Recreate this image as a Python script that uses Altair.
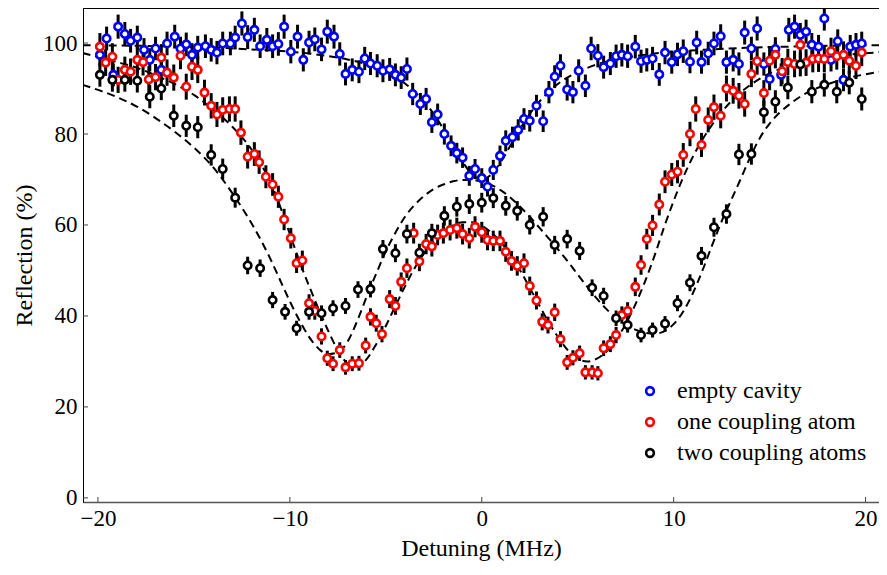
import math
import altair as alt
import pandas as pd

SERIES = ["empty cavity", "one coupling atom", "two coupling atoms"]
COLORS = ["#0000ff", "#ff0000", "#000000"]
ERR_SCALE = [0.26, 0.30, 0.27]

BLUE_X = [-19.9, -19.55, -19.2, -18.95, -18.6, -18.3, -17.95, -17.6, -17.3, -17.0, -16.7, -16.4, -16.0, -15.7,
          -15.4, -15.1, -14.8, -14.4, -14.1, -13.8, -13.5, -13.1, -12.85, -12.5, -12.2, -11.85, -11.55, -11.2,
          -10.9, -10.6, -10.3, -9.95, -9.6, -9.3, -9.0, -8.7, -8.35, -8.05, -7.7, -7.4, -7.1, -6.75, -6.4, -6.1,
          -5.8, -5.45, -5.15, -4.8, -4.5, -4.2, -3.9, -3.6, -3.2, -2.9, -2.6, -2.3, -1.95, -1.6, -1.3, -1.0,
          -0.65, -0.35, 0.0, 0.3, 0.6, 0.95, 1.25, 1.6, 1.9, 2.2, 2.5, 2.85, 3.2, 3.5, 3.8, 4.1, 4.45, 4.75,
          5.05, 5.4, 5.7, 6.05, 6.35, 6.7, 7.0, 7.3, 7.6, 8.0, 8.3, 8.6, 8.9, 9.25, 9.55, 9.9, 10.2, 10.5,
          10.85, 11.2, 11.45, 11.8, 12.1, 12.45, 12.75, 13.1, 13.4, 13.7, 14.05, 14.35, 14.7, 15.0, 15.3, 15.6,
          16.0, 16.3, 16.6, 16.9, 17.2, 17.55, 17.85, 18.2, 18.55, 18.85, 19.2, 19.5, 19.8]
BLUE_Y = [97.4, 101.0, 93.0, 103.6, 102.0, 100.5, 101.2, 98.5, 96.3, 98.8, 94.1, 99.9, 101.4, 98.8,
          99.7, 97.4, 99.0, 99.3, 98.5, 97.9, 99.9, 99.9, 101.2, 104.3, 101.3, 102.9, 99.3, 100.7,
          99.3, 99.8, 103.6, 98.1, 101.4, 96.3, 100.1, 100.8, 98.6, 102.5, 101.4, 97.6, 93.2, 94.1, 93.7, 96.6,
          95.5, 95.0, 93.9, 94.2, 93.0, 92.4, 94.3, 88.8, 86.6, 87.7, 82.6, 84.3, 80.0, 77.4, 75.8, 74.8,
          70.8, 72.3, 70.3, 68.4, 72.1, 75.2, 78.5, 79.3, 80.9, 83.3, 82.9, 86.2, 82.8, 89.2, 92.6, 95.0, 89.8, 89.2,
          93.9, 90.6, 98.8, 97.2, 94.7, 95.5, 97.1, 97.4, 97.1, 99.2, 96.0, 96.3, 96.6, 93.1, 97.9, 95.8, 97.5, 98.2,
          95.9, 100.1, 95.8, 97.7, 99.9, 101.5, 95.8, 96.3, 95.4, 102.3, 98.8, 103.2, 95.4, 92.1, 98.7, 93.0,
          102.9, 103.6, 101.8, 102.5, 99.6, 99.2, 105.4, 96.3, 100.4, 91.9, 99.2, 99.6, 99.9]

RED_X = [-19.9, -19.6, -19.25, -18.95, -18.6, -18.3, -17.95, -17.65, -17.35, -17.0, -16.7, -16.4, -16.05, -15.7,
         -15.4, -15.1, -14.8, -14.45, -14.1, -13.8, -13.5, -13.15, -12.85, -12.55, -12.2, -11.85, -11.6, -11.25,
         -10.9, -10.6, -10.3, -9.95, -9.65, -9.35, -9.0, -8.7, -8.35, -8.05, -7.75, -7.4, -7.1, -6.75, -6.4,
         -6.05, -5.8, -5.5, -5.2, -4.8, -4.5, -4.2, -3.9, -3.55, -3.25, -2.9, -2.6, -2.3, -2.0, -1.65, -1.3, -1.0,
         -0.65, -0.35, 0.0, 0.3, 0.6, 0.95, 1.25, 1.55, 1.85, 2.2, 2.5, 2.85, 3.15, 3.45, 3.8, 4.1, 4.45, 4.75,
         5.1, 5.4, 5.75, 6.05, 6.35, 6.7, 7.0, 7.3, 7.6, 8.0, 8.3, 8.6, 8.9, 9.25, 9.55, 9.9, 10.2, 10.5, 10.85,
         11.15, 11.45, 11.8, 12.1, 12.45, 12.75, 13.1, 13.4, 13.7, 14.05, 14.35, 14.7, 15.0, 15.3, 15.65, 15.95,
         16.3, 16.6, 16.9, 17.25, 17.55, 17.85, 18.2, 18.5, 18.85, 19.15, 19.5, 19.8]
RED_Y = [99.2, 95.7, 97.0, 91.9, 94.1, 93.7, 96.3, 95.8, 92.0, 92.5, 96.8, 93.5, 92.4, 97.2,
         90.4, 94.8, 94.1, 89.1, 86.2, 84.3, 85.3, 85.5, 85.5, 80.3, 75.0, 75.6, 73.8, 70.6,
         68.9, 66.2, 61.2, 57.1, 51.6, 52.2, 42.8, 41.1, 35.5, 30.7, 29.5, 32.5, 28.7, 29.5, 29.6,
         33.5, 39.8, 38.4, 36.0, 43.7, 42.2, 47.5, 50.5, 58.2, 52.0, 55.8, 55.3, 57.8, 58.2, 58.9, 59.3, 58.0,
         57.1, 59.6, 58.4, 56.7, 56.5, 56.5, 54.1, 52.1, 51.0, 51.6, 46.6, 43.4, 38.7, 38.0, 40.8, 34.9, 29.8, 30.8,
         31.8, 27.6, 27.6, 27.4, 32.9, 33.8, 35.8, 40.2, 41.1, 46.4, 51.2, 56.9, 59.9, 64.5, 69.5, 71.1, 71.7, 75.4, 80.0,
         85.5, 77.6, 83.1, 85.9, 84.0, 90.0, 89.5, 88.4, 86.6, 93.2, 96.0, 89.0, 96.1, 97.4, 93.8, 95.8,
         95.4, 99.6, 95.7, 96.5, 96.6, 96.5, 98.2, 97.1, 97.4, 96.1, 95.0, 97.9]

BLACK_X = [-19.9, -19.25, -18.6, -17.95, -17.3, -16.7, -16.05, -15.4, -14.8, -14.1, -13.5, -12.85, -12.2, -11.55,
           -10.9, -10.25, -9.65, -9.0, -8.35, -7.75, -7.1, -6.45, -5.8, -5.15, -4.5, -3.9, -3.25, -2.6, -1.95,
           -1.3, -0.65, 0.0, 0.6, 1.25, 1.85, 2.5, 3.2, 3.8, 4.45, 5.1, 5.75, 6.35, 7.0, 7.6, 8.3, 8.9, 9.55,
           10.2, 10.85, 11.45, 12.1, 12.75, 13.4, 14.05, 14.7, 15.3, 15.95, 16.6, 17.2, 17.85, 18.5, 19.15, 19.8]
BLACK_Y = [93.0, 91.9, 91.9, 91.7, 88.2, 90.0, 84.0, 81.8, 81.5, 75.4, 72.3, 66.0, 51.1, 50.5,
           43.5, 40.9, 37.3, 40.9, 40.6, 41.7, 42.2, 45.8, 45.9, 54.7, 53.8, 58.0, 53.9, 58.2, 62.0,
           64.0, 64.6, 64.9, 65.9, 64.2, 63.1, 60.0, 61.8, 55.6, 56.9, 54.3, 46.2, 44.4, 39.5, 38.0, 35.8, 36.9, 38.3,
           42.8, 47.3, 53.2, 59.5, 62.4, 75.5, 75.6, 84.8, 87.1, 90.2, 95.3, 89.3, 90.8, 89.3, 91.3, 87.7]

FIT_BLUE_X = [-20.8, -18, -16, -14, -12, -10, -9, -8, -7, -6, -5, -4, -3.5, -3, -2.5, -2, -1.5, -1, -0.5, 0,
              0.5, 1, 1.5, 2, 2.5, 3, 3.5, 4, 5, 6, 7, 8, 9, 10, 12, 14, 16, 18, 20.8]
FIT_BLUE_Y = [99.5, 99.4, 99.2, 99.0, 98.6, 98.1, 97.7, 97.1, 96.4, 95.3, 93.6, 91.1, 89.3, 87.1, 84.4, 81.1, 77.5,
              73.9, 71.1, 70.0, 71.1, 73.9, 77.5, 81.1, 84.4, 87.1, 89.3, 91.1, 93.6, 95.3, 96.4, 97.1, 97.7, 98.1,
              98.6, 99.0, 99.2, 99.4, 99.5]

FIT_RED_X = [-20.8, -19, -18, -17, -16, -15, -14, -13, -12.5, -12, -11.5, -11, -10.5, -10, -9.5, -9, -8.5, -8,
             -7.5, -7, -6.5, -6, -5.5, -5, -4.5, -4, -3.5, -3, -2.5, -2, -1.5, -1, -0.5, 0, 0.5, 1, 1.5, 2, 2.5,
             3, 3.5, 4, 4.5, 5, 5.5, 6, 6.5, 7, 7.5, 8, 8.5, 9, 9.5, 10, 10.5, 11, 11.5, 12, 12.5, 13, 14, 15,
             16, 18, 20.8]
FIT_RED_Y = [97.8, 95.8, 94.6, 92.9, 91.0, 88.6, 85.4, 81.6, 79.3, 76.6, 73.3, 69.3, 64.0, 58.0, 52.0, 46.6, 41.5,
             36.7, 32.5, 29.6, 28.9, 30.5, 33.8, 37.8, 42.2, 46.5, 50.5, 53.8, 56.5, 58.5, 59.9, 60.6, 60.6, 59.8,
             58.3, 56.2, 53.4, 50.0, 46.2, 42.3, 38.5, 35.2, 32.4, 30.6, 30.0, 30.6, 32.2, 34.8, 38.2, 42.5, 47.5,
             53.2, 59.5, 65.3, 70.5, 75.0, 78.8, 82.0, 84.8, 87.2, 90.8, 93.3, 95.0, 96.8, 98.0]

FIT_BLACK_X = [-20.8, -19, -18, -17, -16, -15, -14, -13.5, -13, -12.5, -12, -11.5, -11, -10.5, -10, -9.5, -9,
               -8.5, -8, -7.5, -7, -6.5, -6, -5.5, -5, -4.5, -4, -3.5, -3, -2.5, -2, -1.5, -1, -0.5, 0, 0.5, 1,
               1.5, 2, 2.5, 3, 3.5, 4, 4.5, 5, 5.5, 6, 6.5, 7, 7.5, 8, 8.5, 9, 9.5, 10, 10.5, 11, 11.5, 12, 12.5,
               13, 13.5, 14, 14.5, 15, 15.5, 16, 17, 18, 19, 20.8]
FIT_BLACK_Y = [90.8, 88.1, 86.1, 83.5, 80.5, 77.0, 72.7, 70.0, 67.0, 63.8, 60.4, 56.6, 52.4, 47.8, 43.2, 39.0,
               35.4, 32.8, 31.6, 32.0, 34.3, 38.8, 44.2, 49.3, 54.2, 58.3, 61.8, 64.4, 66.4, 67.9, 68.9, 69.6,
               69.9, 69.9, 69.5, 68.8, 67.6, 66.0, 64.0, 61.8, 59.4, 57.0, 54.5, 51.9, 49.1, 46.4, 43.8, 41.5,
               39.6, 38.1, 37.0, 36.3, 36.1, 36.6, 38.2, 41.0, 45.0, 50.0, 55.5, 60.8, 65.5, 70.2, 75.0, 79.2,
               82.3, 84.6, 86.4, 89.2, 90.9, 92.2, 93.7]

X_TICKS = [-20, -10, 0, 10, 20]
Y_TICKS = [0, 20, 40, 60, 80, 100]

FONT = "Liberation Serif"
PLOT_W, PLOT_H = 796, 494

# ---- tables ----
rows = []
for name, xs_, ys_, k in zip(SERIES, [BLUE_X, RED_X, BLACK_X], [BLUE_Y, RED_Y, BLACK_Y], ERR_SCALE):
    for xv, yv in zip(xs_, ys_):
        e = k * math.sqrt(yv)
        rows.append({"x": xv, "y": yv, "lo": yv - e, "hi": yv + e, "series": name})
pts = pd.DataFrame(rows)

frows = []
for name, fx, fy in zip(SERIES, [FIT_BLUE_X, FIT_RED_X, FIT_BLACK_X], [FIT_BLUE_Y, FIT_RED_Y, FIT_BLACK_Y]):
    for xv, yv in zip(fx, fy):
        frows.append({"x": xv, "y": yv, "fit": name})
fits = pd.DataFrame(frows)

xscale = alt.Scale(domain=[-20.78, 20.7], nice=False, zero=False)
yscale = alt.Scale(domain=[-0.9, 107.7], nice=False, zero=False)

xaxis = alt.Axis(values=X_TICKS, ticks=False, tickSize=0, grid=False, labelPadding=5, labelFlush=False,
                 labelOverlap=False, labelFont=FONT, labelFontSize=23, labelColor="black",
                 domainColor="#555555", domainWidth=1.5,
                 titleFont=FONT, titleFontSize=24, titleFontWeight="normal", titleColor="black", titlePadding=6)
yaxis = alt.Axis(values=Y_TICKS, ticks=False, tickSize=0, grid=False, labelPadding=6, labelFlush=False,
                 labelOverlap=False, labelFont=FONT, labelFontSize=23, labelColor="black",
                 domainColor="black", domainWidth=1,
                 titleFont=FONT, titleFontSize=24, titleFontWeight="normal", titleColor="black", titlePadding=6)

X = alt.X("x:Q", scale=xscale, axis=xaxis, title="Detuning (MHz)")

fit_layer = alt.Chart(fits).mark_line(
    color="black", strokeWidth=2, strokeDash=[8, 5], interpolate="monotone", clip=True
).encode(x=X, y=alt.Y("y:Q", scale=yscale, axis=yaxis, title="Reflection (%)"), detail="fit:N")

err_layer = alt.Chart(pts).mark_rule(color="black", strokeWidth=3, clip=True).encode(
    x=X, y=alt.Y("lo:Q", scale=yscale, axis=yaxis, title="Reflection (%)"), y2="hi:Q"
)

dot_layer = alt.Chart(pts).mark_point(
    shape="circle", size=55, strokeWidth=2.6, filled=False, opacity=1, clip=True
).encode(
    x=X,
    y=alt.Y("y:Q", scale=yscale, axis=yaxis, title="Reflection (%)"),
    fill=alt.value("white"),
    stroke=alt.Stroke(
        "series:N",
        scale=alt.Scale(domain=SERIES, range=COLORS),
        sort=SERIES,
        legend=alt.Legend(
            title=None, orient="none", legendX=555, legendY=371, labelFont=FONT, labelFontSize=24,
            labelColor="black", labelLimit=400, symbolType="circle", symbolSize=60, symbolStrokeWidth=2.6,
            symbolFillColor="white", labelOffset=15, rowPadding=7, padding=0, offset=0,
        ),
    ),
)

xt_layer = alt.Chart(pd.DataFrame({"x": X_TICKS})).mark_rule(color="#444444", strokeWidth=1).encode(
    x=X, y=alt.value(PLOT_H), y2=alt.value(PLOT_H - 5)
)
yt_layer = alt.Chart(pd.DataFrame({"y": Y_TICKS})).mark_rule(color="#444444", strokeWidth=1).encode(
    y=alt.Y("y:Q", scale=yscale, axis=yaxis, title="Reflection (%)"), x=alt.value(0), x2=alt.value(5)
)

chart = alt.layer(fit_layer, err_layer, dot_layer, xt_layer, yt_layer).properties(
    width=PLOT_W,
    height=PLOT_H,
    padding={"left": 75, "top": 0, "right": 0, "bottom": 61},
    autosize=alt.AutoSizeParams(type="none"),
    background="white",
).configure_view(stroke="black", strokeWidth=1)

chart.save("out.html", embed_options={"renderer": "svg", "actions": False})
